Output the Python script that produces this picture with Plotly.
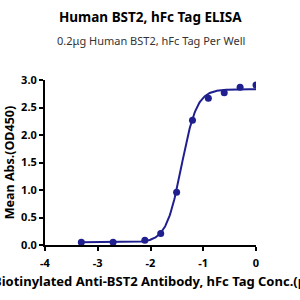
import numpy as np
import plotly.graph_objects as go

# Data (log10 concentration, mean OD450)
log_conc = [0.0, -0.301, -0.602, -0.903, -1.204, -1.505, -1.806, -2.107, -2.709, -3.311]
od450 = [2.91, 2.87, 2.77, 2.67, 2.27, 0.96, 0.21, 0.085, 0.05, 0.05]

# 4PL fit parameters
fit_bottom = 0.05
fit_top = 2.83
fit_logec50 = -1.412
fit_hill = 3.0

xs = np.linspace(min(log_conc), max(log_conc), 300)
ys = fit_bottom + (fit_top - fit_bottom) / (1 + 10 ** ((fit_logec50 - xs) * fit_hill))

color = "#1f1f8f"
font = "Noto Sans"

L, R, T, B = 45, 44, 80, 55
plot_h = 300 - T - B
plot_w = 300 - L - R

def px_x(p):
    return (p - L) / plot_w

def px_y(p):
    return (300 - B - p) / plot_h

fig = go.Figure()
fig.add_trace(go.Scatter(x=xs, y=ys, mode="lines", line=dict(color=color, width=2), hoverinfo="skip"))
fig.add_trace(go.Scatter(x=log_conc, y=od450, mode="markers", marker=dict(color=color, size=7)))

tickfont = dict(size=11, family=font, weight="bold", color="black")

fig.update_layout(
    width=300, height=300,
    margin=dict(l=L, r=R, t=T, b=B, autoexpand=False),
    paper_bgcolor="white", plot_bgcolor="white",
    showlegend=False,
    font=dict(family=font, color="black"),
    xaxis=dict(range=[-4, 0], tickvals=[-4, -3, -2, -1, 0], ticktext=["-4", "-3", "-2", "-1", "0"],
               showline=True, linecolor="black", linewidth=2, ticks="outside", ticklen=4,
               tickwidth=2, tickcolor="black", showgrid=False, zeroline=False,
               ticklabelstandoff=3, tickfont=tickfont),
    yaxis=dict(range=[0, 3], tickvals=[0, 0.5, 1, 1.5, 2, 2.5, 3],
               ticktext=["0.0", "0.5", "1.0", "1.5", "2.0", "2.5", "3.0"],
               showline=True, linecolor="black", linewidth=2, ticks="outside", ticklen=4,
               tickwidth=2, tickcolor="black", showgrid=False, zeroline=False,
               tickfont=tickfont,
               title=dict(text="Mean Abs.(OD450)", standoff=4,
                          font=dict(size=12.5, family=font, weight="bold"))),
    annotations=[
        dict(text="<b>Human BST2, hFc Tag ELISA</b>", x=0.5, y=px_y(17), xref="paper", yref="paper",
             yanchor="middle", showarrow=False, font=dict(size=13.5, family=font)),
        dict(text="0.2μg Human BST2, hFc Tag Per Well", x=0.5, y=px_y(40), xref="paper", yref="paper",
             yanchor="middle", showarrow=False, font=dict(size=11, family=font, color="#333333")),
        dict(text="<b>Biotinylated Anti-BST2 Antibody, hFc Tag Conc.(μg/ml)</b>", x=px_x(-9), y=px_y(281),
             xref="paper", yref="paper", xanchor="left", yanchor="middle", showarrow=False,
             font=dict(size=13, family=font)),
    ],
)

fig.write_html("out.html")
